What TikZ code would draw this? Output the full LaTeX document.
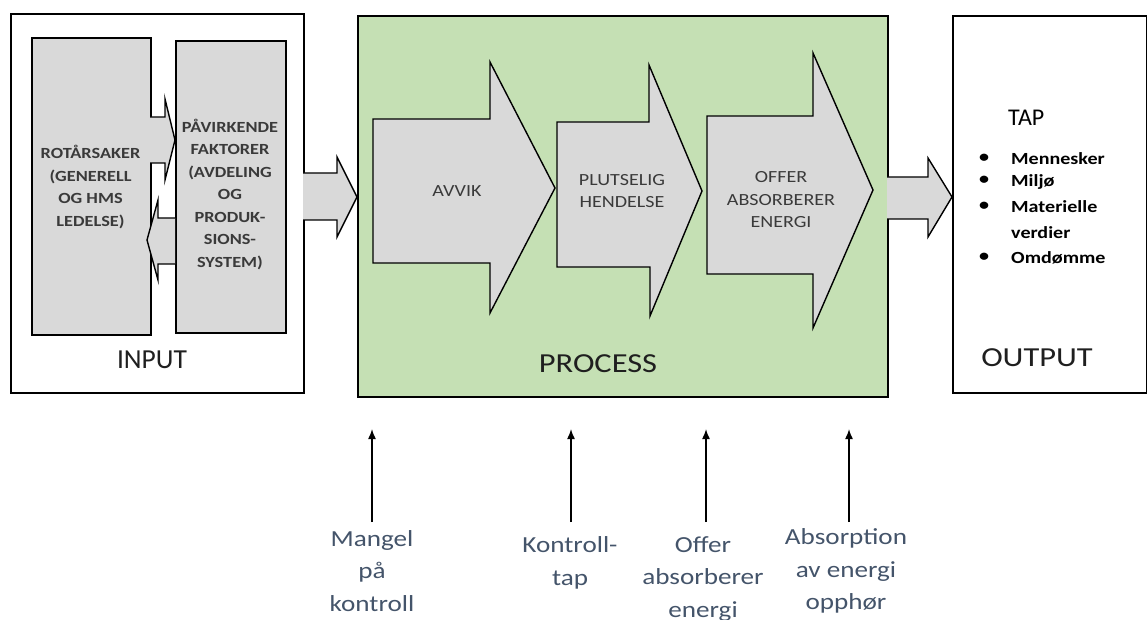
\documentclass[tikz,border=0pt]{standalone}
\usepackage{fontspec}
\setmainfont{Carlito}[FakeStretch=1.18]
\newfontfamily\narrowfont{Carlito}
\usetikzlibrary{arrows.meta}
\definecolor{procgreen}{HTML}{C5E0B4}
\definecolor{blockgray}{HTML}{D9D9D9}
\definecolor{notecolor}{HTML}{44546A}
\definecolor{inktext}{HTML}{3A3A3A}

\tikzset{
  frame/.style={draw=black, line width=1.6pt, inner sep=0pt, anchor=north west},
  blockarrow/.style={draw=black, fill=blockgray, line width=1.4pt, line join=miter},
  boxtext/.style={align=center, text=inktext, font=\fontsize{15.5}{22.5}\selectfont\bfseries},
  steptext/.style={align=center, text=inktext, font=\fontsize{17}{22.5}\selectfont},
  bigtitle/.style={text=black!88, font=\fontsize{27.5}{30}\selectfont},
  lossitem/.style={anchor=base west, inner sep=0pt, font=\fontsize{17}{20}\selectfont\bfseries},
  lossdot/.style={anchor=base, inner sep=0pt, font=\fontsize{17}{20}\selectfont\bfseries},
  note/.style={align=center, text=notecolor, font=\fontsize{23}{32.5}\selectfont},
  pointer/.style={-{Latex[length=10pt,width=8pt]}, line width=1.5pt}
}

\begin{document}
\begin{tikzpicture}[x=1pt, y={(0pt,-1pt)}]
\useasboundingbox (0,0) rectangle (1147,620);

% --- three main frames ---
\node[frame, fill=white, minimum width=293pt, minimum height=379pt] (input) at (10,13) {};
\node[frame, fill=procgreen, minimum width=530pt, minimum height=381pt] (process) at (357,15) {};
\node[frame, fill=white, minimum width=194pt, minimum height=377pt] (output) at (952,15) {};

% --- input blocks ---
\node[frame, fill=blockgray, minimum width=119pt, minimum height=297pt] (root) at (31,37) {};
\node[frame, fill=blockgray, minimum width=110pt, minimum height=292pt] (factors) at (175,40) {};

% arrows between the input blocks
\draw[blockarrow] (150,117) -- (165,117) -- (165,99) -- (175,140) -- (165,180) -- (165,163) -- (150,163);
\draw[blockarrow] (175,218) -- (158,218) -- (158,200) -- (147,240) -- (158,280) -- (158,264) -- (175,264);

% input -> process and process -> output
\draw[blockarrow] (303,173) -- (337,173) -- (337,157) -- (357,197) -- (337,237) -- (337,220) -- (303,220);
\draw[blockarrow] (887,177) -- (928,177) -- (928,158) -- (952,197) -- (928,237) -- (928,219) -- (887,219);

% --- process chain ---
\draw[blockarrow] (373,119) -- (490,119) -- (490,62) -- (555,188) -- (490,313) -- (490,263) -- (373,263) -- cycle;
\draw[blockarrow] (557,122) -- (649,122) -- (649,65) -- (702,191) -- (650,316) -- (650,267) -- (557,267) -- cycle;
\draw[blockarrow] (707,116) -- (813,116) -- (813,53) -- (873,190) -- (813,328) -- (813,274) -- (707,274) -- cycle;

% --- block texts ---
\node[boxtext] (roottxt) at (90.5,187) {ROTÅRSAKER\\(GENERELL\\OG HMS\\LEDELSE)};
\node[boxtext] (factortxt) at (230,194.5) {PÅVIRKENDE\\FAKTORER\\(AVDELING\\OG\\PRODUK-\\SIONS-\\SYSTEM)};
\node[steptext] (avvik) at (457,191) {AVVIK};
\node[steptext] (sudden) at (622,191) {PLUTSELIG\\HENDELSE};
\node[steptext] (victim) at (781,200) {OFFER\\ABSORBERER\\ENERGI};

\node[bigtitle, font=\fontsize{27.5}{30}\selectfont\narrowfont] (inputlbl) at (152,360) {INPUT};
\node[bigtitle] (processlbl) at (598,364) {PROCESS};
\node[bigtitle] (outputlbl) at (1037,358) {OUTPUT};

% --- losses ---
\node[anchor=west, inner sep=0pt, font=\fontsize{24}{26}\selectfont\narrowfont] (tap) at (1008,118) {TAP};
\node[lossitem] (l1) at (1011,165) {Mennesker};
\node[lossitem] (l2) at (1011,187) {Miljø};
\node[lossitem] (l3) at (1011,213) {Materielle};
\node[lossitem] (l3b) at (1011,238) {verdier};
\node[lossitem] (l4) at (1011,263) {Omdømme};
\node[lossdot] (b1) at (984,163) {\textbullet};
\node[lossdot] (b2) at (984,185) {\textbullet};
\node[lossdot] (b3) at (984,211) {\textbullet};
\node[lossdot] (b4) at (984,261) {\textbullet};

% --- barriers below the process ---
\node[note] (n1) at (372,571) {Mangel\\på\\kontroll};
\node[note] (n2) at (570,563) {Kontroll-\\tap};
\node[note] (n3) at (703,579) {Offer\\absorberer\\energi};
\node[note] (n4) at (846,571) {Absorption\\av energi\\opphør};

\coordinate (p1a) at (372,522); \coordinate (p1b) at (372,429);
\coordinate (p2a) at (571,522); \coordinate (p2b) at (571,429);
\coordinate (p3a) at (706,522); \coordinate (p3b) at (706,429);
\coordinate (p4a) at (849,522); \coordinate (p4b) at (849,429);
\draw[pointer] (p1a) -- (p1b);
\draw[pointer] (p2a) -- (p2b);
\draw[pointer] (p3a) -- (p3b);
\draw[pointer] (p4a) -- (p4b);
\end{tikzpicture}
\end{document}
